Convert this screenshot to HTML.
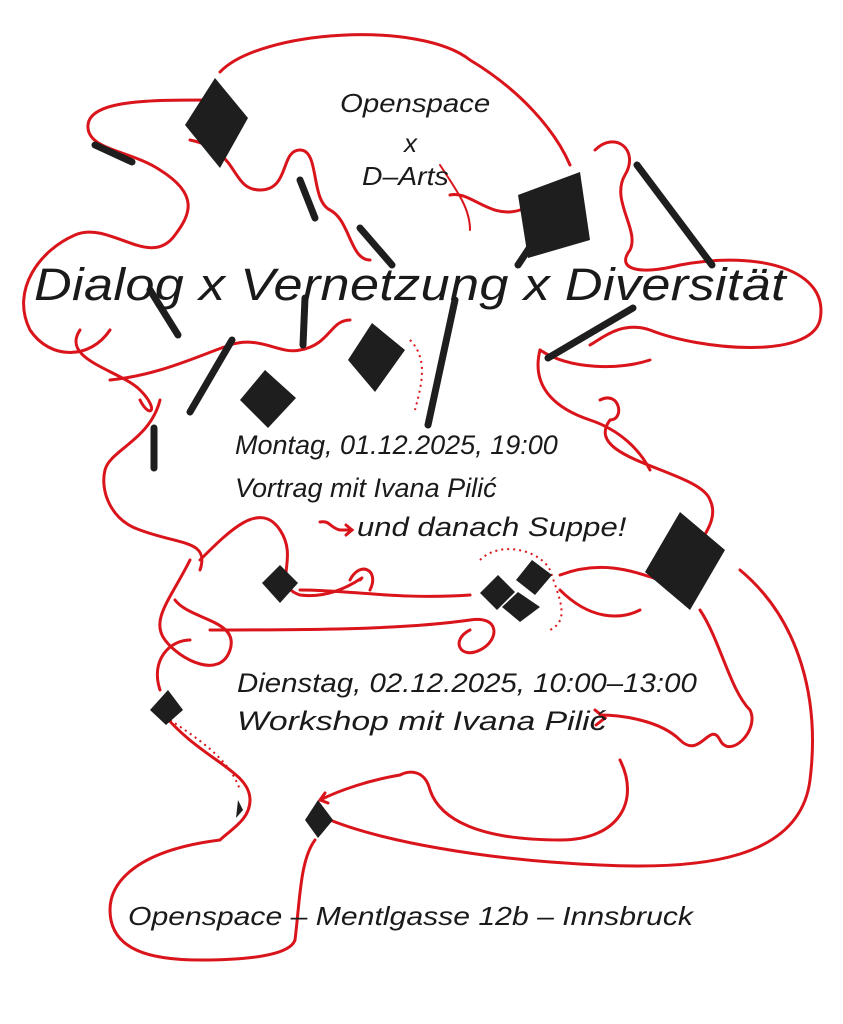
<!DOCTYPE html>
<html><head><meta charset="utf-8"><style>
html,body{margin:0;padding:0;background:#fff}
body{width:843px;height:1024px;position:relative;overflow:hidden}
svg{position:absolute;left:0;top:0}
.t{position:absolute;font-family:"Liberation Sans",sans-serif;font-style:italic;color:#1a1a1a;white-space:nowrap;line-height:1;transform-origin:0 0}
</style></head><body>
<svg width="843" height="1024" viewBox="0 0 843 1024">
<g fill="none" stroke="#d9141b" stroke-width="3" stroke-linecap="round">
<path d="M220 72 C260 30 420 20 470 60 C520 90 555 130 570 165"/>
<path d="M210 100 C150 100 90 100 88 125 C86 150 130 150 160 170 C200 195 190 215 175 235 C150 270 110 220 75 235 C40 250 10 290 30 330 C50 360 90 360 110 330"/>
<path d="M190 140 C240 150 230 190 260 190 C290 190 280 150 300 150 C320 150 310 200 330 210 C350 220 350 260 370 260"/>
<path d="M595 150 C615 130 640 150 625 175 C610 200 640 230 630 250 C615 270 640 275 680 265 C760 250 830 270 820 320 C810 360 700 350 650 330 C620 320 600 340 590 345"/>
<path d="M450 195 C470 190 490 220 520 210"/>
<path d="M80 330 C60 360 120 370 140 390 C160 410 150 420 140 400"/>
<path d="M110 380 C160 375 200 355 230 345 C260 335 280 355 300 350 C330 345 330 320 350 320"/>
<path d="M540 350 C570 370 620 370 650 360"/>
<path d="M540 350 C530 390 560 410 590 420 C620 430 640 450 650 470"/>
<path d="M600 400 C620 390 625 420 610 420 C580 460 700 470 710 500 C720 520 700 540 690 560"/>
<path d="M160 400 C150 440 110 450 105 470 C100 490 110 520 140 530 C180 545 210 540 200 570"/>
<path d="M200 560 C230 530 260 500 280 530 C300 560 270 585 300 595 C340 600 370 570 360 580"/>
<path d="M190 560 C170 600 150 620 165 640 C180 660 220 680 230 650 C240 620 190 620 175 600"/>
<path d="M300 590 C350 590 400 600 470 595"/>
<path d="M350 580 C360 560 380 570 370 590"/>
<path d="M560 575 C600 560 630 570 660 580"/>
<path d="M210 630 C300 630 400 630 470 620 C500 615 500 640 480 650 C460 660 450 640 470 630"/>
<path d="M560 590 C590 620 620 620 640 610"/>
<path d="M740 570 C800 620 820 700 810 780 C800 860 700 870 600 865 C480 860 380 840 330 820"/>
<path d="M700 610 C720 640 730 690 750 710 C760 730 730 760 720 740 C710 720 700 760 680 740 C660 720 620 715 600 715"/>
<path d="M595 710 L605 718 L596 725"/>
<path d="M620 760 C640 800 620 840 560 840 C480 840 440 820 430 790 C425 770 410 770 400 775 C370 780 340 790 320 800"/>
<path d="M320 800 L325 793 M320 800 L328 803"/>
<path d="M160 710 C200 760 250 770 250 800 C250 820 230 830 220 840 C140 850 110 880 110 910 C110 950 150 960 200 960 C250 960 290 955 295 940"/>
<path d="M295 940 C300 900 300 860 315 840"/>
<path d="M160 690 C150 660 170 640 190 640"/>
<path d="M320 522 C330 520 330 528 340 530 L352 530"/>
<path d="M346 525 L352 530 L346 535"/>
<path d="M440 165 C460 195 470 210 470 230" stroke-width="2"/>
</g>
<g fill="none" stroke="#d9141b" stroke-width="2" stroke-dasharray="2 4">
<path d="M410 340 C430 360 420 390 415 410"/>
<path d="M480 560 C500 540 540 550 550 570 C560 600 570 620 550 630"/>
<path d="M170 720 C200 740 230 760 240 790"/>
</g>
<g fill="#1e1e1e">
<polygon points="215,78 248,118 220,168 185,125"/>
<polygon points="518,195 580,172 590,240 528,258"/>
<polygon points="372,323 405,350 375,392 348,360"/>
<polygon points="265,370 296,398 268,428 240,400"/>
<polygon points="680,512 725,550 690,610 645,572"/>
<polygon points="280,565 298,583 280,603 262,583"/>
<polygon points="498,575 515,592 497,610 480,593"/>
<polygon points="532,560 552,575 535,595 516,580"/>
<polygon points="518,592 540,607 520,622 502,607"/>
<polygon points="168,690 183,710 166,725 150,710"/>
<polygon points="318,800 333,820 318,838 305,820"/>
<polygon points="238,800 243,810 236,818"/>
</g>
<g stroke="#1e1e1e" stroke-width="7" stroke-linecap="round">
<path d="M95 145 L132 162"/><path d="M300 180 L315 218"/><path d="M360 228 L392 265"/>
<path d="M637 165 L712 265"/><path d="M548 358 L633 308"/><path d="M150 290 L178 335"/>
<path d="M232 340 L190 412"/><path d="M455 300 L428 425"/><path d="M305 298 L303 345"/>
<path d="M154 428 L154 468"/><path d="M530 247 L518 265"/>
</g>
</svg>
<div class="t" style="left:340px;top:90px;font-size:26px;transform:scaleX(1.13)">Openspace</div>
<div class="t" style="left:404px;top:130px;font-size:26px">x</div>
<div class="t" style="left:362px;top:163px;font-size:26px;transform:scaleX(1.09)">D–Arts</div>
<div class="t" style="left:34px;top:262px;font-size:45px;letter-spacing:0.3px;transform:scaleX(1.16)">Dialog x Vernetzung x Diversität</div>
<div class="t" style="left:235px;top:432px;font-size:27px">Montag, 01.12.2025, 19:00</div>
<div class="t" style="left:235px;top:475px;font-size:27px">Vortrag mit Ivana Pilić</div>
<div class="t" style="left:357px;top:514px;font-size:27px;transform:scaleX(1.15)">und danach Suppe!</div>
<div class="t" style="left:237px;top:670px;font-size:27px;transform:scaleX(1.09)">Dienstag, 02.12.2025, 10:00–13:00</div>
<div class="t" style="left:237px;top:708px;font-size:27px;transform:scaleX(1.25)">Workshop mit Ivana Pilić</div>
<div class="t" style="left:128px;top:903px;font-size:26px;transform:scaleX(1.16)">Openspace – Mentlgasse 12b – Innsbruck</div>
</body></html>
